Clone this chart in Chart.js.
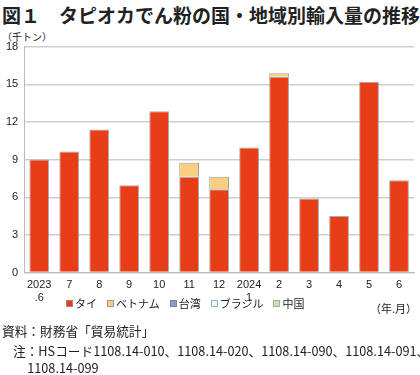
<!DOCTYPE html>
<html lang="ja">
<head>
<meta charset="utf-8">
<script src="https://cdn.jsdelivr.net/npm/chart.js@4"></script>
<style>
  body { margin: 0; background: #fff; font-family: "Liberation Sans", "Noto Sans CJK JP", sans-serif; color: #222; }
  #wrap { position: relative; width: 420px; height: 375px; overflow: hidden; }
  .abs { position: absolute; white-space: nowrap; font-family: "Noto Sans CJK JP", sans-serif; }
  #title { left: 2px; top: 1px; font-size: 19px; font-weight: bold; }
  #unit { left: 2px; top: 29px; font-size: 10px; }
  #legend { left: 66px; top: 295px; font-size: 11px; display: flex; }
  #legend span.item { display: inline-flex; align-items: center; margin-right: 10px; }
  #legend span.box { display: inline-block; width: 5px; height: 5px; margin-right: 2px; border: 1px solid; }
  #ym { right: 3px; top: 300px; font-size: 11px; }
  #src { left: 2px; top: 321px; font-size: 12.7px; }
  #note { left: 13px; top: 342px; font-size: 12.7px; line-height: 17px; }
  #chartBox { position: absolute; left: 0; top: 34px; width: 420px; height: 277px; }
</style>
</head>
<body>
<div id="wrap">
  <div id="title" class="abs">図１　タピオカでん粉の国・地域別輸入量の推移</div>
  <div id="unit" class="abs">（千トン）</div>
  <div id="chartBox"><canvas id="chart"></canvas></div>
  <div id="legend" class="abs"></div>
  <div id="ym" class="abs">（年.月）</div>
  <div id="src" class="abs">資料：財務省「貿易統計」</div>
  <div id="note" class="abs">注：HSコード1108.14-010、1108.14-020、1108.14-090、1108.14-091、<br>&nbsp;&nbsp;&nbsp;&nbsp;&nbsp;1108.14-099</div>
</div>
<script>
// 月ラベル（2023年6月〜2024年6月）
const months = [['2023', '.6'], '7', '8', '9', '10', '11', '12', ['2024', '1'], '2', '3', '4', '5', '6'];

// 国別輸入量（千トン）
const thai    = [9.0, 9.65, 11.4, 6.95, 12.86, 7.64, 6.64, 9.97, 15.6, 5.9, 4.5, 15.2, 7.35];
const vietnam = [0, 0, 0, 0, 0, 1.1, 1.0, 0, 0.27, 0, 0, 0, 0];
const taiwan  = [0, 0, 0, 0, 0, 0, 0, 0, 0, 0, 0, 0, 0];
const brazil  = [0, 0, 0, 0, 0, 0, 0, 0, 0, 0, 0, 0, 0];
const china   = [0, 0, 0, 0, 0, 0, 0, 0, 0, 0, 0, 0, 0];

const yTicks = [0, 3, 6, 9, 12, 15, 18];

const fontNum = { family: 'Liberation Sans, Noto Sans CJK JP, sans-serif', size: 11 };

function ds(label, data, bg, border) {
    return {
        label: label,
        data: data,
        backgroundColor: bg,
        borderColor: border,
        borderWidth: 1,
        barPercentage: 0.66,
        categoryPercentage: 1.0,
    };
}

const datasets = [
    ds('タイ', thai, '#e83e18', 'rgba(150,150,160,0.8)'),
    ds('ベトナム', vietnam, '#f8cf80', 'rgba(150,150,150,0.9)'),
    ds('台湾', taiwan, '#8e9ac8', '#6f7fb8'),
    ds('ブラジル', brazil, '#eef4fa', '#8fb4cf'),
    ds('中国', china, '#c9dcc0', '#97b98a'),
];

// 凡例（HTML）
const legendEl = document.getElementById('legend');
datasets.forEach(d => {
    const item = document.createElement('span');
    item.className = 'item';
    item.innerHTML = '<span class="box" style="background:' + d.backgroundColor + ';border-color:' + d.borderColor + '"></span>' + d.label;
    legendEl.appendChild(item);
});

const ctx = document.getElementById('chart').getContext('2d');
new Chart(ctx, {
    type: 'bar',
    data: { labels: months, datasets: datasets },
    options: {
        responsive: true,
        maintainAspectRatio: false,
        animation: false,
        layout: { padding: { left: 0, right: 6, top: 1, bottom: 0 } },
        plugins: {
            legend: { display: false },
            tooltip: { enabled: false },
        },
        scales: {
            x: {
                stacked: true,
                grid: { display: false, drawTicks: false },
                border: { color: '#bbb', width: 1 },
                ticks: { color: '#222', font: fontNum, maxRotation: 0, autoSkip: false, padding: 6 },
            },
            y: {
                stacked: true,
                min: 0,
                max: 18,
                afterBuildTicks: (axis) => { axis.ticks = yTicks.map(v => ({ value: v })); },
                grid: { color: '#cfcfcf', lineWidth: 1.5, drawTicks: false },
                border: { color: '#bbb', width: 1 },
                ticks: { color: '#222', font: fontNum, padding: 6 },
            },
        },
    },
});
</script>
</body>
</html>
